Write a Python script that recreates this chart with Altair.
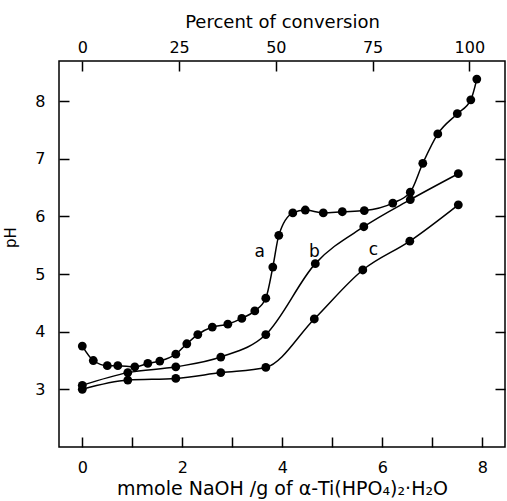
import altair as alt
import pandas as pd

# ---- data ----
a_x = [0, 0.22, 0.50, 0.71, 1.05, 1.31, 1.55, 1.87, 2.09, 2.31, 2.60, 2.91, 3.19, 3.45,
       3.67, 3.81, 3.93, 4.21, 4.46, 4.82, 5.20, 5.64, 6.21, 6.56, 6.81, 7.11, 7.50, 7.77, 7.89]
a_pH = [3.75, 3.50, 3.41, 3.41, 3.39, 3.45, 3.49, 3.61, 3.79, 3.95, 4.08, 4.13, 4.23, 4.36,
        4.58, 5.12, 5.67, 6.06, 6.11, 6.06, 6.08, 6.10, 6.23, 6.42, 6.92, 7.43, 7.78, 8.02, 8.38]
b_x = [0, 0.91, 1.87, 2.77, 3.67, 4.66, 5.63, 6.56, 7.52]
b_pH = [3.07, 3.29, 3.39, 3.56, 3.95, 5.18, 5.82, 6.29, 6.74]
c_x = [0, 0.91, 1.87, 2.77, 3.67, 4.64, 5.61, 6.55, 7.52]
c_pH = [3.00, 3.16, 3.19, 3.29, 3.38, 4.22, 5.07, 5.57, 6.20]

label_text = ["a", "b", "c"]
label_x = [3.55, 4.64, 5.82]
label_pH = [5.39, 5.39, 5.41]

x_ticks = [0, 1, 2, 3, 4, 5, 6, 7, 8]
y_ticks = [3, 4, 5, 6, 7, 8]
pct_ticks = [0, 25, 50, 75, 100]
full_conversion = 7.74  # mmole/g at 100 %

x_dom = [-0.466, 8.454]
y_dom = [2.0, 8.694]
p_dom = [v / full_conversion * 100 for v in x_dom]

rows = []
for name, xs, ys in (("a", a_x, a_pH), ("b", b_x, b_pH), ("c", c_x, c_pH)):
    for i, (xv, yv) in enumerate(zip(xs, ys)):
        rows.append({"series": name, "x": xv, "pH": yv, "order": i})
df = pd.DataFrame(rows)
lab = pd.DataFrame({"t": label_text, "x": label_x, "pH": label_pH})
pdf = pd.DataFrame({"p": pct_ticks, "v": [3] * len(pct_ticks)})

FONT = "DejaVu Sans"

xs = alt.Scale(domain=x_dom, nice=False, zero=False)
ys = alt.Scale(domain=y_dom, nice=False, zero=False)

x_enc = alt.X("x:Q", scale=xs, axis=alt.Axis(
    orient="bottom", values=x_ticks, offset=-10, domain=False, tickSize=10,
    labelPadding=12, format="d", labelExpr="datum.value % 2 == 0 ? datum.label : ''",
    title="mmole NaOH /g of α-Ti(HPO₄)₂·H₂O", titlePadding=4, titleFontSize=19, grid=False))
y_enc = alt.Y("pH:Q", scale=ys, axis=alt.Axis(
    orient="left", values=y_ticks, offset=-10, domain=False, tickSize=10, format="d",
    labelPadding=14, title="pH", titleFontSize=15, titleX=-51, titleY=176, grid=False))

lines = alt.Chart(df).mark_line(color="black", strokeWidth=1.5, interpolate="monotone").encode(
    x=x_enc, y=y_enc, detail="series:N", order="order:Q")
points = alt.Chart(df).mark_circle(color="black", size=78, opacity=1).encode(
    x="x:Q", y="pH:Q")
labels = alt.Chart(lab).mark_text(font=FONT, fontSize=17, color="black").encode(
    x="x:Q", y="pH:Q", text="t:N")

main = alt.layer(lines, points, labels)

dummy = alt.Chart(pdf).mark_point(opacity=0).encode(
    x=alt.X("p:Q", scale=alt.Scale(domain=p_dom, nice=False, zero=False), axis=alt.Axis(
        orient="top", values=pct_ticks, offset=-10, domain=False, tickSize=10, format="d",
        labelPadding=6, title="Percent of conversion", titlePadding=8, grid=False)),
    y=alt.Y("v:Q", scale=alt.Scale(domain=y_dom, nice=False, zero=False), axis=alt.Axis(
        orient="right", values=y_ticks, offset=-10, domain=False, tickSize=10,
        labels=False, title=None, grid=False)),
)

chart = alt.layer(main, dummy).resolve_scale(x="independent", y="independent").properties(
    width=446, height=386,
    padding={"left": 59, "top": 61, "right": 2, "bottom": 54},
    autosize="none",
).configure_view(stroke="black", strokeWidth=1.5).configure_axis(
    labelFont=FONT, labelFontSize=16, labelColor="black",
    titleFont=FONT, titleFontSize=18, titleColor="black", titleFontWeight="normal",
    tickColor="black", tickWidth=1.5,
)

chart.save("out.html", embed_options={"renderer": "svg", "actions": False})
